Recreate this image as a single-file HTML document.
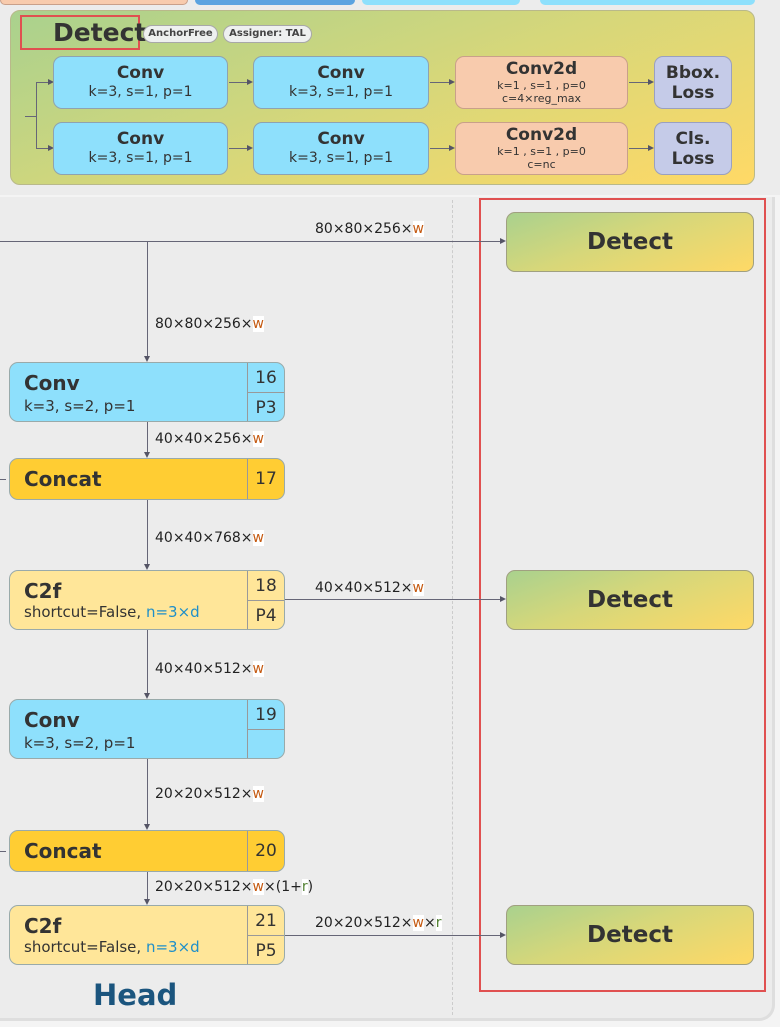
<!DOCTYPE html>
<html><head><meta charset="utf-8"><style>
*{margin:0;padding:0;box-sizing:border-box}
body{width:780px;height:1027px;background:#f4f4f4;position:relative;overflow:hidden;font-family:"DejaVu Sans","Liberation Sans",sans-serif;color:#333}
.a{position:absolute}
.top{background:#ececec}
.panel{left:10px;top:10px;width:745px;height:175px;border-radius:10px;border:1px solid #b9b98a;background:linear-gradient(160deg,#a9d18e 0%,#d6d77a 50%,#ffd966 100%)}
.b{position:absolute;border-radius:9px;border:1px solid #8ea3b0;text-align:center;color:#333}
.cv{background:#8ee0fc}
.c2{background:#f8cbad;border-color:#c9a08a}
.ls{background:#c5cbe8;border-color:#9aa0c0}
.b .t{font-weight:bold;font-size:17px;line-height:20px}
.b .s{font-size:14px;line-height:18px}
.b .x{font-size:11px;line-height:13px}
.pill{position:absolute;top:25px;height:18px;border-radius:9px;background:#eef0ef;border:1px solid #a8a8a8;font-size:10px;font-weight:bold;line-height:16px;text-align:center;color:#444}
.hl{position:absolute;height:1px;background:#667}
.vl{position:absolute;width:1px;background:#667}
.arr{position:absolute;width:0;height:0}
.ar{border-left:6px solid #556;border-top:3px solid transparent;border-bottom:3px solid transparent}
.ad{border-top:6px solid #556;border-left:3px solid transparent;border-right:3px solid transparent}
.low{left:0;top:197px;width:775px;height:824px;background:#ececec;border-radius:0 0 16px 0;border-right:3px solid #dedede;border-bottom:3px solid #dedede}
.n{position:absolute;left:9px;width:276px;border-radius:9px;border:1px solid #9aa;}
.n .nm{position:absolute;left:14px;font-weight:bold;font-size:20px}
.n .pr{position:absolute;left:14px;font-size:15px}
.n .id{position:absolute;left:237px;top:0;bottom:0;right:0;border-left:1px solid #999;text-align:center;font-size:17px}
.lab{position:absolute;font-size:14px;color:#222;white-space:nowrap}
.lab span{background:#fff}
.w{color:#c55a11}
.r{color:#548235}
.bl{color:#1f8fc9}
.det{position:absolute;left:506px;width:248px;height:60px;border-radius:9px;border:1px solid #a0a080;background:linear-gradient(160deg,#a9d18e 0%,#d6d77a 45%,#ffd966 100%);text-align:center;font-weight:bold;font-size:23px;line-height:58px;color:#333}
</style></head><body>
<div class="a top" style="left:0;top:0;width:780px;height:195px"></div>
<div class="a" style="left:0;top:0;width:188px;height:5px;background:#f8cbad;border:1px solid #c9a08a;border-top:none;border-radius:0 0 5px 5px"></div>
<div class="a" style="left:195px;top:0;width:160px;height:5px;background:#5ba3e0;border-radius:0 0 5px 5px"></div>
<div class="a" style="left:362px;top:0;width:158px;height:5px;background:#8ee0fc;border-radius:0 0 5px 5px"></div>
<div class="a" style="left:540px;top:0;width:215px;height:5px;background:#8ee0fc;border-radius:0 0 5px 5px"></div>

<div class="a panel"></div>
<div class="a" style="left:20px;top:15px;width:120px;height:35px;border:2px solid #e05050"></div>
<div class="a" style="left:53px;top:18px;font-weight:bold;font-size:25px;color:#333">Detect</div>
<div class="pill" style="left:143px;width:75px">AnchorFree</div>
<div class="pill" style="left:223px;width:89px">Assigner: TAL</div>

<div class="hl" style="left:25px;top:116px;width:11px"></div>
<div class="vl" style="left:36px;top:82px;height:67px"></div>
<div class="hl" style="left:36px;top:82px;width:16px"></div><div class="arr ar" style="left:48px;top:79px"></div>
<div class="hl" style="left:36px;top:148px;width:16px"></div><div class="arr ar" style="left:48px;top:145px"></div>

<div class="b cv" style="left:53px;top:56px;width:175px;height:53px;padding-top:6px"><div class="t">Conv</div><div class="s">k=3, s=1, p=1</div></div>
<div class="b cv" style="left:253px;top:56px;width:176px;height:53px;padding-top:6px"><div class="t">Conv</div><div class="s">k=3, s=1, p=1</div></div>
<div class="b c2" style="left:455px;top:56px;width:173px;height:53px;padding-top:2px"><div class="t">Conv2d</div><div class="x">k=1 , s=1 , p=0</div><div class="x">c=4×reg_max</div></div>
<div class="b ls" style="left:654px;top:56px;width:78px;height:53px;padding-top:6px"><div class="t">Bbox.</div><div class="t">Loss</div></div>
<div class="b cv" style="left:53px;top:122px;width:175px;height:53px;padding-top:6px"><div class="t">Conv</div><div class="s">k=3, s=1, p=1</div></div>
<div class="b cv" style="left:253px;top:122px;width:176px;height:53px;padding-top:6px"><div class="t">Conv</div><div class="s">k=3, s=1, p=1</div></div>
<div class="b c2" style="left:455px;top:122px;width:173px;height:53px;padding-top:2px"><div class="t">Conv2d</div><div class="x">k=1 , s=1 , p=0</div><div class="x">c=nc</div></div>
<div class="b ls" style="left:654px;top:122px;width:78px;height:53px;padding-top:6px"><div class="t">Cls.</div><div class="t">Loss</div></div>
<div class="hl" style="left:229px;top:82px;width:22px"></div><div class="arr ar" style="left:247px;top:79px"></div>
<div class="hl" style="left:430px;top:82px;width:22px"></div><div class="arr ar" style="left:449px;top:79px"></div>
<div class="hl" style="left:629px;top:82px;width:22px"></div><div class="arr ar" style="left:648px;top:79px"></div>
<div class="hl" style="left:229px;top:148px;width:22px"></div><div class="arr ar" style="left:247px;top:145px"></div>
<div class="hl" style="left:430px;top:148px;width:22px"></div><div class="arr ar" style="left:449px;top:145px"></div>
<div class="hl" style="left:629px;top:148px;width:22px"></div><div class="arr ar" style="left:648px;top:145px"></div>

<div class="a low"></div>
<div class="a" style="left:452px;top:200px;height:815px;border-left:1px dashed #ccc"></div>
<div class="a" style="left:479px;top:198px;width:287px;height:794px;border:2px solid #e05050"></div>

<div class="hl" style="left:0;top:241px;width:500px"></div><div class="arr ar" style="left:500px;top:238px"></div>
<div class="lab" style="left:315px;top:221px">80×80×256×<span class="w">w</span></div>
<div class="det" style="top:212px">Detect</div>

<div class="vl" style="left:147px;top:241px;height:115px"></div><div class="arr ad" style="left:144px;top:356px"></div>
<div class="lab" style="left:155px;top:316px">80×80×256×<span class="w">w</span></div>

<div class="n" style="top:362px;height:60px;background:#8ee0fc"><div class="nm" style="top:8px">Conv</div><div class="pr" style="top:34px">k=3, s=2, p=1</div><div class="id"><div style="height:30px;border-bottom:1px solid #999;line-height:30px">16</div><div style="line-height:30px">P3</div></div></div>
<div class="vl" style="left:147px;top:422px;height:30px"></div><div class="arr ad" style="left:144px;top:452px"></div>
<div class="lab" style="left:155px;top:431px">40×40×256×<span class="w">w</span></div>

<div class="hl" style="left:0;top:479px;width:6px"></div>
<div class="n" style="top:458px;height:42px;background:#ffcd33"><div class="nm" style="top:8px">Concat</div><div class="id" style="line-height:40px">17</div></div>
<div class="vl" style="left:147px;top:500px;height:64px"></div><div class="arr ad" style="left:144px;top:564px"></div>
<div class="lab" style="left:155px;top:530px">40×40×768×<span class="w">w</span></div>

<div class="n" style="top:570px;height:60px;background:#ffe699"><div class="nm" style="top:8px">C2f</div><div class="pr" style="top:32px">shortcut=False, <span class="bl">n=3×d</span></div><div class="id"><div style="height:30px;border-bottom:1px solid #999;line-height:30px">18</div><div style="line-height:30px">P4</div></div></div>
<div class="hl" style="left:285px;top:599px;width:215px"></div><div class="arr ar" style="left:500px;top:596px"></div>
<div class="lab" style="left:315px;top:580px">40×40×512×<span class="w">w</span></div>
<div class="det" style="top:570px">Detect</div>

<div class="vl" style="left:147px;top:630px;height:63px"></div><div class="arr ad" style="left:144px;top:693px"></div>
<div class="lab" style="left:155px;top:661px">40×40×512×<span class="w">w</span></div>

<div class="n" style="top:699px;height:60px;background:#8ee0fc"><div class="nm" style="top:8px">Conv</div><div class="pr" style="top:34px">k=3, s=2, p=1</div><div class="id"><div style="height:30px;border-bottom:1px solid #999;line-height:30px">19</div></div></div>
<div class="vl" style="left:147px;top:759px;height:65px"></div><div class="arr ad" style="left:144px;top:824px"></div>
<div class="lab" style="left:155px;top:786px">20×20×512×<span class="w">w</span></div>

<div class="hl" style="left:0;top:851px;width:6px"></div>
<div class="n" style="top:830px;height:42px;background:#ffcd33"><div class="nm" style="top:8px">Concat</div><div class="id" style="line-height:40px">20</div></div>
<div class="vl" style="left:147px;top:872px;height:27px"></div><div class="arr ad" style="left:144px;top:899px"></div>
<div class="lab" style="left:155px;top:879px">20×20×512×<span class="w">w</span>×(1+<span class="r">r</span>)</div>

<div class="n" style="top:905px;height:60px;background:#ffe699"><div class="nm" style="top:8px">C2f</div><div class="pr" style="top:32px">shortcut=False, <span class="bl">n=3×d</span></div><div class="id"><div style="height:30px;border-bottom:1px solid #999;line-height:30px">21</div><div style="line-height:30px">P5</div></div></div>
<div class="hl" style="left:285px;top:935px;width:215px"></div><div class="arr ar" style="left:500px;top:932px"></div>
<div class="lab" style="left:315px;top:915px">20×20×512×<span class="w">w</span>×<span class="r">r</span></div>
<div class="det" style="top:905px">Detect</div>

<div class="a" style="left:93px;top:978px;font-weight:bold;font-size:29px;color:#1b557e">Head</div>
</body></html>
